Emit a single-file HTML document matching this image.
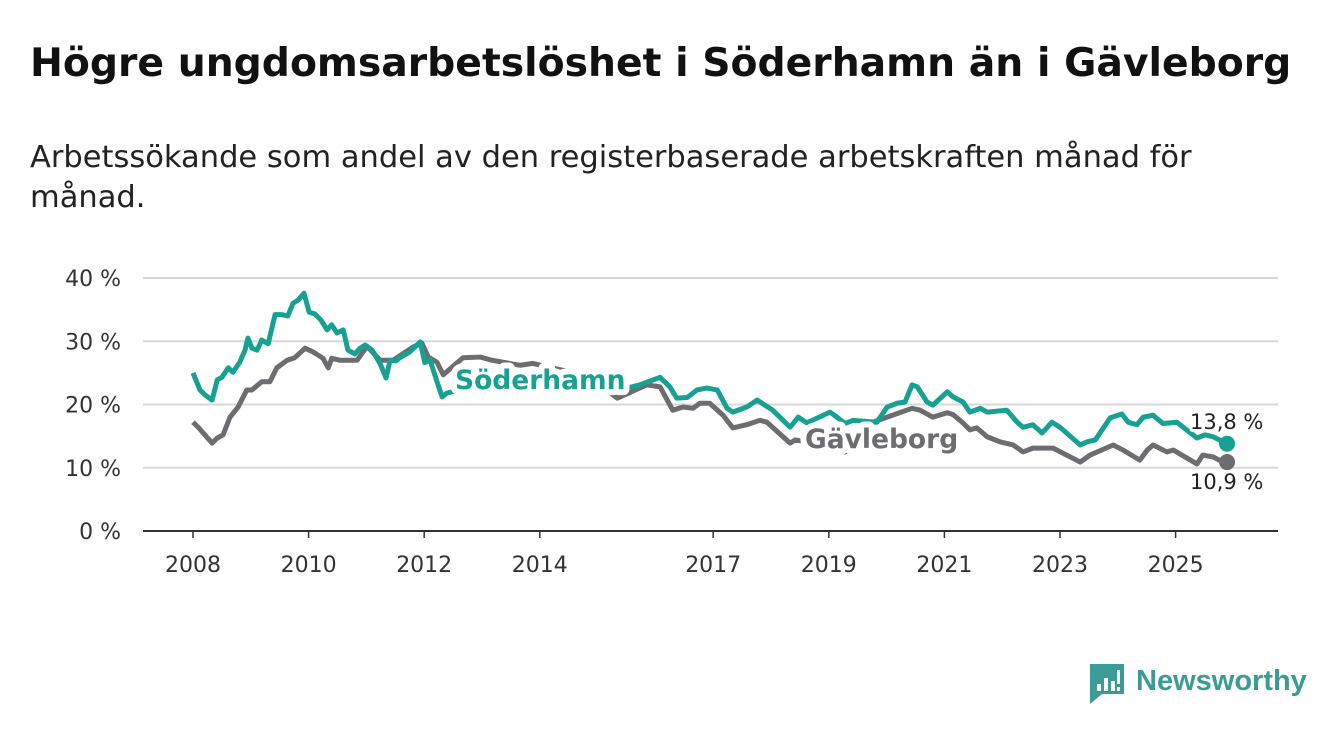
<!DOCTYPE html>
<html><head><meta charset="utf-8"><style>
body{margin:0;background:#fff;width:1340px;height:734px;overflow:hidden;font-family:"Liberation Sans","DejaVu Sans",sans-serif}
</style></head><body>
<svg width="1340" height="734" xmlns="http://www.w3.org/2000/svg">
<text x="30" y="76" font-size="39.3" font-weight="bold" fill="#111" font-family="DejaVu Sans, sans-serif">Högre ungdomsarbetslöshet i Söderhamn än i Gävleborg</text>
<text x="30" y="167" font-size="30.5" fill="#222" font-family="DejaVu Sans, sans-serif">Arbetssökande som andel av den registerbaserade arbetskraften månad för</text>
<text x="30" y="207" font-size="30.5" fill="#222" font-family="DejaVu Sans, sans-serif">månad.</text>
<g id="grid"></g><g id="lines"></g><g id="labels"></g>
<g>
<path d="M1090 664 h34 v30 h-22 l-12 10 z" fill="#3b9c95"/>
<rect x="1097" y="684" width="4" height="7" fill="#fff"/><rect x="1104" y="678" width="4" height="13" fill="#fff"/><rect x="1111" y="681" width="4" height="10" fill="#fff"/><rect x="1117" y="670" width="3" height="14" fill="#fff"/><rect x="1117" y="687" width="3" height="4" fill="#fff"/>
<text x="1136" y="690" font-size="29" font-weight="bold" fill="#3b9c95">Newsworthy</text>
</g>
</svg>
<script>
const yTicks=[0,10,20,30,40];
const yTickLabels=["0 %","10 %","20 %","30 %","40 %"];
const xTicks=[2008,2010,2012,2014,2017,2019,2021,2023,2025];
const sodDates=[2008.00,2008.12,2008.21,2008.33,2008.42,2008.50,2008.61,2008.69,2008.81,2008.90,2008.95,2009.02,2009.11,2009.19,2009.30,2009.42,2009.54,2009.64,2009.73,2009.82,2009.92,2010.01,2010.11,2010.21,2010.32,2010.40,2010.49,2010.60,2010.68,2010.80,2010.89,2010.98,2011.10,2011.24,2011.34,2011.41,2011.51,2011.58,2011.75,2011.93,2012.01,2012.10,2012.20,2012.31,2012.39,2012.6,2012.9,2013.3,2013.7,2014.1,2014.5,2014.9,2015.2,2015.51,2015.73,2016.08,2016.25,2016.37,2016.55,2016.72,2016.89,2017.07,2017.24,2017.34,2017.58,2017.76,2018.03,2018.33,2018.47,2018.62,2019.02,2019.14,2019.28,2019.42,2019.83,2020.01,2020.18,2020.32,2020.44,2020.53,2020.70,2020.80,2021.05,2021.15,2021.32,2021.44,2021.62,2021.74,2022.08,2022.26,2022.36,2022.53,2022.69,2022.86,2023.00,2023.35,2023.47,2023.61,2023.87,2024.07,2024.18,2024.33,2024.44,2024.61,2024.78,2025.02,2025.37,2025.51,2025.65,2025.89];
const sodValues=[25.0,22.3,21.5,20.7,23.9,24.3,25.8,25.1,26.7,28.6,30.5,28.9,28.6,30.2,29.6,34.2,34.2,34.0,36.0,36.5,37.6,34.6,34.3,33.4,31.8,32.6,31.3,31.8,28.6,28.0,28.9,29.4,28.6,26.4,24.2,27.0,26.9,27.4,28.3,29.9,26.6,27.1,24.2,21.2,21.8,22.3,22.8,23.3,23.0,23.2,22.8,22.5,22.4,22.6,23.1,24.3,22.8,21.0,21.1,22.3,22.6,22.3,19.4,18.8,19.6,20.7,19.1,16.4,18.0,17.1,18.8,18.0,17.0,17.5,17.2,19.6,20.2,20.4,23.1,22.8,20.4,19.9,22.0,21.2,20.4,18.8,19.4,18.8,19.1,17.2,16.4,16.8,15.5,17.2,16.4,13.6,14.1,14.4,17.9,18.5,17.2,16.8,18.0,18.3,17.0,17.2,14.7,15.2,14.9,13.8];
const gavDates=[2008.00,2008.09,2008.33,2008.42,2008.52,2008.64,2008.78,2008.93,2009.02,2009.19,2009.33,2009.45,2009.63,2009.76,2009.94,2010.08,2010.25,2010.34,2010.40,2010.54,2010.84,2011.01,2011.24,2011.46,2011.81,2011.96,2012.07,2012.22,2012.33,2012.57,2012.67,2012.97,2013.17,2013.66,2013.88,2014.2,2014.6,2014.9,2015.2,2015.34,2015.85,2016.08,2016.30,2016.48,2016.65,2016.77,2016.94,2017.17,2017.34,2017.58,2017.81,2017.93,2018.33,2018.42,2018.7,2019.0,2019.28,2019.6,2019.76,2020.44,2020.58,2020.80,2021.05,2021.15,2021.32,2021.44,2021.56,2021.74,2021.96,2022.19,2022.36,2022.53,2022.88,2023.35,2023.52,2023.92,2024.09,2024.38,2024.51,2024.61,2024.85,2024.96,2025.37,2025.47,2025.65,2025.82,2025.89];
const gavValues=[17.2,16.4,13.9,14.7,15.2,18.0,19.6,22.3,22.3,23.6,23.6,25.8,27.0,27.4,28.9,28.3,27.3,25.8,27.3,27.0,27.0,29.2,27.0,27.0,29.1,29.7,27.5,26.7,24.7,26.6,27.4,27.5,27.0,26.2,26.5,25.8,25.0,23.5,22.0,21.0,23.1,22.8,19.1,19.6,19.4,20.2,20.2,18.3,16.3,16.8,17.5,17.2,13.9,14.4,14.0,13.5,12.5,14.5,17.2,19.4,19.1,18.0,18.7,18.4,17.1,16.0,16.3,14.9,14.1,13.6,12.5,13.1,13.1,10.9,12.0,13.6,12.8,11.2,12.8,13.6,12.5,12.8,10.6,12.0,11.7,10.9,10.9];
const X=y=>193+(y-2008)*57.8, Y=v=>531-v*6.325;
const NS="http://www.w3.org/2000/svg";
function mk(t,a,p){const e=document.createElementNS(NS,t);for(const k in a)e.setAttribute(k,a[k]);p.appendChild(e);return e;}
const grid=document.getElementById('grid');
yTicks.forEach((t,i)=>{
 const l=mk('line',{x1:143,x2:1278,y1:Y(t),y2:Y(t),stroke:t===0?'#333':'#d8d8d8','stroke-width':2},grid);
 
 
 const tx=mk('text',{x:121,y:Y(t)+8,'text-anchor':'end','font-size':22,fill:'#333','font-family':'DejaVu Sans, sans-serif'},grid);
 tx.textContent=yTickLabels[i];
 
 
});
xTicks.forEach(t=>{
 const tk=mk('line',{x1:X(t),x2:X(t),y1:531,y2:538,stroke:'#333','stroke-width':1.5},grid);
 
 
 const tx=mk('text',{x:X(t),y:572,'text-anchor':'middle','font-size':22,fill:'#333','font-family':'DejaVu Sans, sans-serif'},grid);
 tx.textContent=t;
 
 
});
const lines=document.getElementById('lines');
function series(d,v,c,name){
 const p=mk('polyline',{points:d.map((x,i)=>X(x)+','+Y(v[i])).join(' '),fill:'none',stroke:c,'stroke-width':5,'stroke-linejoin':'round'},lines);
 
 
 const n=d.length-1;
 const c2=mk('circle',{cx:X(d[n]),cy:Y(v[n]),r:8,fill:c},lines);
 
 
}
series(gavDates,gavValues,'#6d6c70','gavleborg');
series(sodDates,sodValues,'#17a192','soderhamn');
const lab=document.getElementById('labels');
function label(x,y,txt,c,sz,bold,name){
 const t=mk('text',{x:x,y:y,'font-size':sz,'font-weight':bold?'bold':'normal',fill:c,stroke:'#fff','stroke-width':bold?12:6,'paint-order':'stroke','stroke-linejoin':'round','font-family':'DejaVu Sans, sans-serif'},lab);
 t.textContent=txt;
 
 
}
label(455,389,'Söderhamn','#17a192',26.5,true,'soderhamn-label');
label(805,448,'Gävleborg','#6d6c70',26.5,true,'gavleborg-label');
label(1190,429,'13,8 %','#222',21,false,'soderhamn-end-value');
label(1190,489,'10,9 %','#222',21,false,'gavleborg-end-value');
</script>
</body></html>
